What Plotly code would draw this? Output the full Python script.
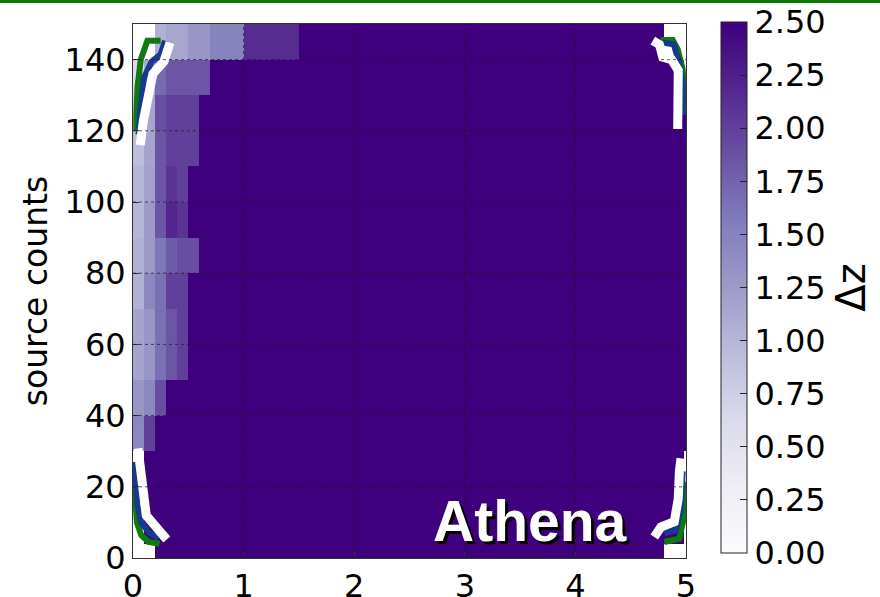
import plotly.graph_objects as go

# Bin edges of the redshift-error map
z_edges = [0, 0.1, 0.2, 0.3, 0.4, 0.5, 0.6, 0.7, 1.0, 1.5, 4.8, 4.98, 5.0]
count_edges = [0, 4, 10, 20, 30, 40, 50, 60, 70, 80, 90, 100, 110, 120, 130, 140, 150]

N = None  # bins without a measurement
S = 2.5   # saturated value

# Delta z per (source-count bin, redshift bin), bottom row first
dz_rows = [
    [N, N, S, S, S, S, S, S, S, S, N, N],                                  # 0-4
    [N, S, S, S, S, S, S, S, S, S, S, N],                                  # 4-10
    [N, S, S, S, S, S, S, S, S, S, S, N],                                  # 10-20
    [N, S, S, S, S, S, S, S, S, S, S, N],                                  # 20-30
    [1.45, 2.0, S, S, S, S, S, S, S, S, S, S],                             # 30-40
    [1.3, 1.45, 1.9, S, S, S, S, S, S, S, S, S],                           # 40-50
    [1.17, 1.3, 1.65, 1.85, 2.0, S, S, S, S, S, S, S],                     # 50-60
    [1.17, 1.3, 1.65, 1.85, 2.0, S, S, S, S, S, S, S],                     # 60-70
    [1.05, 1.45, 1.65, 2.0, 2.0, S, S, S, S, S, S, S],                     # 70-80
    [1.05, 1.25, 1.6, 1.8, 1.9, 1.9, S, S, S, S, S, S],                    # 80-90
    [1.0, 1.25, 1.85, 2.2, 2.1, S, S, S, S, S, S, S],                      # 90-100
    [1.0, 1.2, 1.85, 2.1, 2.0, S, S, S, S, S, S, S],                       # 100-110
    [0.93, 1.17, 1.85, 2.0, 2.0, 2.0, S, S, S, S, S, S],                   # 110-120
    [0.8, 1.15, 1.9, 2.0, 2.0, 2.0, S, S, S, S, S, S],                     # 120-130
    [0.6, 1.1, 1.7, 1.85, 1.85, 1.85, 1.85, S, S, S, S, N],                # 130-140
    [N, N, 1.05, 1.15, 1.15, 1.3, 1.3, 1.5, 2.15, S, N, N],                # 140-150
]

# Boundary curves in the four corners (z, counts)
green_tl = ([0.25, 0.13, 0.07, 0.04, 0.03, 0.03], [145.3, 145.3, 140, 132, 124, 120])
blue_tl = ([0.29, 0.25, 0.17, 0.10, 0.07, 0.05], [145.3, 141.5, 139.5, 135, 127, 119])
white_tl = ([0.335, 0.28, 0.18, 0.125, 0.095, 0.065], [144.8, 139.5, 136, 129, 123, 116])

green_bl = ([0.01, 0.02, 0.035, 0.075, 0.14, 0.24], [22, 15, 10, 6.4, 4.5, 4.0])
blue_bl = ([0.015, 0.025, 0.04, 0.075, 0.14, 0.23], [27, 20, 15, 10, 7.3, 5.5])
white_bl = ([0.045, 0.06, 0.09, 0.12, 0.2, 0.27, 0.305], [30.8, 26, 20, 12, 9, 7, 5.2])

green_tr = ([4.77, 4.88, 4.925, 4.97, 4.985, 4.985], [145.5, 145.5, 142.9, 137.3, 129.3, 124.6])
blue_tr = ([4.79, 4.89, 4.94, 4.97, 4.97], [144.8, 144.3, 138.7, 133, 124.6])
white_tr = ([4.70, 4.76, 4.79, 4.87, 4.93, 4.94, 4.925], [145.3, 144.2, 140.7, 140.0, 137, 123, 120.5])

green_br = ([4.985, 4.979, 4.939, 4.804], [21.4, 11.1, 5.4, 4.5])
blue_br = ([4.97, 4.955, 4.91, 4.804], [24.3, 13.9, 7.8, 6.9])
white_br = ([4.955, 4.94, 4.93, 4.894, 4.774, 4.713], [28, 24.3, 16.7, 10.2, 8.7, 5.9])

x_ticks = [0, 1, 2, 3, 4, 5]
y_ticks = [0, 20, 40, 60, 80, 100, 120, 140]
cbar_ticks = [0.0, 0.25, 0.5, 0.75, 1.0, 1.25, 1.5, 1.75, 2.0, 2.25, 2.5]


def join(*parts):
    xs, ys = [], []
    for px, py in parts:
        xs += list(px) + [None]
        ys += list(py) + [None]
    return xs, ys


FONT = "DejaVu Sans"
W, H = 880, 597
L, R, T, B = 133, 194, 24, 39
plot_w = W - L - R
plot_h = H - T - B

fig = go.Figure()

fig.add_trace(go.Heatmap(
    x=z_edges, y=count_edges, z=dz_rows,
    colorscale="Purples", zmin=0, zmax=2.5,
    hoverongaps=False,
    colorbar=dict(
        thickness=26, thicknessmode="pixels",
        len=531 / plot_h, lenmode="fraction",
        x=(721 - L) / plot_w, xanchor="left", xpad=0,
        y=(H - B - 553) / plot_h, yanchor="bottom", ypad=0,
        outlinecolor="#222", outlinewidth=1,
        tickvals=cbar_ticks, ticktext=[f"{v:.2f}" for v in cbar_ticks],
        ticks="inside", ticklen=7, tickcolor="#222", tickwidth=1,
        tickfont=dict(family=FONT, size=32, color="black"),
        title=dict(text="Δz", side="right", font=dict(family=FONT, size=40, color="black")),
    ),
))

for color, width, parts in [
    ("#107a10", 6, (green_tl, green_bl, green_tr, green_br)),
    ("#173a8c", 6, (blue_tl, blue_bl, blue_tr, blue_br)),
    ("white", 9, (white_tl, white_bl, white_tr, white_br)),
]:
    xs, ys = join(*parts)
    fig.add_trace(go.Scatter(x=xs, y=ys, mode="lines", showlegend=False,
                             line=dict(color=color, width=width), hoverinfo="skip"))

# Dotted grid drawn over the map
shapes = []
for v in x_ticks[1:-1]:
    shapes.append(dict(type="line", xref="x", yref="paper", x0=v, x1=v, y0=0, y1=1,
                       line=dict(color="#1a1a1a", width=1, dash="dot"), layer="above",
                       opacity=0.7))
for v in y_ticks[1:]:
    shapes.append(dict(type="line", xref="paper", yref="y", x0=0, x1=1, y0=v, y1=v,
                       line=dict(color="#1a1a1a", width=1, dash="dot"), layer="above",
                       opacity=0.7))
# Green rule along the top edge of the page
shapes.append(dict(type="rect", xref="paper", yref="paper",
                   x0=-L / plot_w, x1=1 + R / plot_w,
                   y0=1 + (T - 3) / plot_h, y1=1 + (T + 2) / plot_h,
                   fillcolor="#0b780b", line=dict(width=0), layer="above"))

axis_common = dict(
    showgrid=False, zeroline=False, showline=True, linecolor="#333", linewidth=1,
    mirror=True, ticks="inside", ticklen=6, tickcolor="#333",
    tickfont=dict(family=FONT, size=32, color="black"), layer="above traces",
    automargin=False,
)

fig.update_layout(
    width=W, height=H,
    margin=dict(l=L, r=R, t=T, b=B, autoexpand=False),
    paper_bgcolor="white", plot_bgcolor="white",
    showlegend=False,
    shapes=shapes,
    xaxis=dict(range=[0, 5], tickvals=x_ticks, **axis_common),
    yaxis=dict(range=[0, 150], tickvals=y_ticks,
               title=dict(text="source counts", font=dict(family=FONT, size=33, color="black"),
                          standoff=6),
               **axis_common),
    annotations=[
        dict(text="<b>Athena</b>", xref="paper", yref="paper",
             x=(530 + 3 - L) / plot_w, y=(H - B - 521 - 3) / plot_h,
             xanchor="center", yanchor="middle", showarrow=False,
             font=dict(family="Liberation Sans", size=57, color="black")),
        dict(text="<b>Athena</b>", xref="paper", yref="paper",
             x=(530 - L) / plot_w, y=(H - B - 521) / plot_h,
             xanchor="center", yanchor="middle", showarrow=False,
             font=dict(family="Liberation Sans", size=57, color="white")),
    ],
)

fig.write_html("out.html")
